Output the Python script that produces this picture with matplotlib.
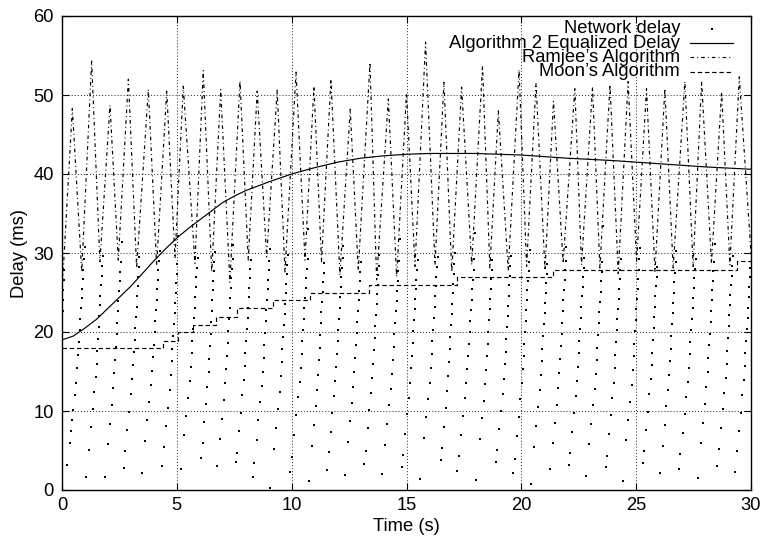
import numpy as np
import matplotlib
matplotlib.use("Agg")
import matplotlib.pyplot as plt
from matplotlib.lines import Line2D

plt.rcParams['font.family'] = ['Liberation Sans', 'DejaVu Sans']
plt.rcParams['lines.scale_dashes'] = False

# ---------------- data ----------------
# Algorithm 2 equalized delay (ms) vs time (s)
alg2_t = [0, 0.5, 1, 1.5, 2, 2.5, 3, 3.5, 4, 4.5, 5, 5.5, 6, 6.5, 7, 7.5, 8, 9, 10,
          11, 12, 13, 14, 15, 16, 17, 18, 19, 20, 21, 22, 23, 24, 25, 26, 27, 28, 29, 30]
alg2_d = [19.0, 19.5, 20.5, 21.6, 23.0, 24.4, 25.8, 27.4, 29.0, 30.5, 31.9, 33.1, 34.2,
          35.3, 36.4, 37.2, 37.9, 39.0, 40.0, 40.8, 41.5, 42.0, 42.3, 42.5, 42.6, 42.6,
          42.6, 42.5, 42.4, 42.2, 42.0, 41.85, 41.7, 41.5, 41.3, 41.1, 40.9, 40.75, 40.6]

# Ramjee's algorithm (alternating troughs / peaks)
ramjee_t = [0.0, 0.45, 0.86, 1.29, 1.65, 2.09, 2.45, 2.89, 3.25, 3.76, 4.12, 4.56, 4.92,
            5.28, 5.79, 6.15, 6.52, 6.91, 7.31, 7.75, 8.11, 8.50, 8.91, 9.37, 9.71, 10.19,
            10.58, 10.97, 11.30, 11.71, 12.10, 12.55, 12.90, 13.41, 13.70, 14.21, 14.57,
            15.00, 15.37, 15.83, 16.24, 16.63, 16.97, 17.40, 17.84, 18.31, 18.63, 19.00,
            19.43, 19.90, 20.23, 20.64, 21.03, 21.40, 21.82, 22.33, 22.62, 23.10, 23.42,
            23.86, 24.22, 24.65, 25.02, 25.45, 25.82, 26.25, 26.61, 27.12, 27.48, 27.85,
            28.28, 28.72, 29.08, 29.49, 30.0]
ramjee_d = [25.0, 48.3, 27.6, 54.3, 28.9, 48.7, 29.1, 52.0, 28.1, 50.7, 28.5, 50.5, 29.3,
            51.1, 28.7, 53.1, 27.6, 50.7, 26.3, 51.8, 29.1, 50.5, 29.5, 50.6, 27.6, 52.9,
            29.1, 51.1, 28.9, 52.0, 27.2, 48.2, 27.8, 54.1, 26.6, 49.5, 27.0, 50.2, 28.3,
            56.7, 28.5, 51.6, 27.6, 51.0, 28.5, 53.7, 28.1, 48.0, 27.8, 53.2, 28.3, 51.5,
            27.8, 49.2, 28.7, 50.8, 28.5, 51.0, 28.1, 51.3, 27.4, 51.7, 28.9, 50.8, 27.6,
            50.8, 28.1, 51.7, 28.3, 51.7, 28.7, 50.4, 28.5, 52.3, 30.0]

# Moon's algorithm (step levels)
moon_t = [0, 4.4, 5.05, 5.7, 6.7, 7.6, 9.2, 10.8, 13.35, 17.2, 21.4, 29.4, 30]
moon_d = [18, 18.9, 20, 20.9, 21.9, 23, 24, 25, 25.9, 27, 27.9, 29, 29]

# Network delay: sawtooth teeth (start time of each tooth, and delays of its packets)
tooth_start = [-0.35, 0.12, 1.00, 1.80, 2.60, 3.40, 4.27, 5.07, 5.94, 6.67, 7.46, 8.26,
               9.06, 9.86, 10.73, 11.45, 12.25, 13.05, 13.85, 14.72, 15.52, 16.39, 17.12,
               17.99, 18.78, 19.58, 20.38, 21.18, 21.97, 22.77, 23.57, 24.37, 25.17, 25.97,
               26.76, 27.63, 28.43, 29.23]
tooth_delays = [
    [19.5, 21.0, 22.6, 24.1, 25.3, 26.6, 27.8],
    [3.2, 5.9, 7.5, 8.8, 10.1, 12.0, 13.6, 15.4, 17.1, 18.7, 20.2, 21.6, 23.0, 24.3, 25.5, 26.7, 27.9, 29.2, 30.8],
    [1.7, 5.1, 8.0, 10.2, 12.4, 14.3, 16.0, 17.6, 19.1, 20.6, 22.0, 23.4, 24.6, 25.9, 27.1, 28.3, 29.6],
    [1.7, 5.8, 8.4, 10.8, 12.9, 14.8, 16.5, 18.1, 19.7, 21.2, 22.6, 23.9, 25.2, 26.4, 27.6, 28.9, 31.4],
    [2.8, 4.9, 7.6, 9.9, 12.1, 14.0, 15.8, 17.5, 19.0, 20.5, 21.9, 23.2, 24.5, 25.8, 27.0, 28.2, 29.5],
    [2.1, 6.2, 8.8, 11.2, 13.3, 15.1, 16.8, 18.4, 20.0, 21.4, 22.8, 24.1, 25.4, 26.6, 27.8, 29.0, 30.3],
    [3.1, 5.5, 8.1, 10.4, 12.6, 14.5, 16.3, 17.9, 19.5, 21.0, 22.4, 23.7, 25.0, 26.2, 27.4, 28.6, 32.2],
    [2.7, 6.9, 9.4, 11.7, 13.8, 15.6, 17.3, 18.9, 20.4, 21.8, 23.1, 24.4, 25.7, 26.9, 28.1, 29.4],
    [4.1, 5.9, 8.6, 10.9, 13.0, 14.9, 16.6, 18.2, 19.8, 21.3, 22.7, 24.0, 25.3, 26.5, 27.7, 28.8, 30.1],
    [3.0, 6.4, 9.0, 11.4, 13.5, 15.3, 17.0, 18.6, 20.1, 21.6, 23.0, 24.3, 25.6, 26.8, 28.0, 29.3, 31.0],
    [3.5, 4.7, 7.5, 9.8, 12.0, 13.9, 15.7, 17.3, 18.9, 20.4, 21.8, 23.1, 24.4, 25.6, 26.8, 28.0, 29.1],
    [1.6, 3.4, 6.3, 8.9, 11.2, 13.2, 15.0, 16.7, 18.3, 19.9, 21.4, 22.8, 24.1, 25.4, 26.6, 27.8, 29.0, 30.5],
    [0.2, 5.2, 7.9, 10.3, 12.4, 14.4, 16.2, 17.8, 19.4, 20.9, 22.3, 23.6, 24.9, 26.1, 27.3, 28.5, 29.8],
    [2.3, 4.2, 7.0, 9.5, 11.8, 13.7, 15.5, 17.2, 18.8, 20.3, 21.7, 23.0, 24.3, 25.6, 26.8, 28.0, 29.3, 33.1],
    [1.1, 5.6, 8.2, 10.6, 12.7, 14.6, 16.4, 18.0, 19.6, 21.1, 22.5, 23.8, 25.1, 26.3, 27.5, 28.7],
    [2.5, 4.8, 7.4, 9.7, 11.9, 13.8, 15.6, 17.2, 18.8, 20.3, 21.7, 23.1, 24.4, 25.7, 26.9, 28.1, 29.4, 30.9],
    [1.9, 6.1, 8.7, 11.0, 13.1, 15.0, 16.7, 18.3, 19.9, 21.3, 22.7, 24.0, 25.2, 26.4, 27.6, 28.9],
    [3.3, 5.0, 7.8, 10.1, 12.3, 14.2, 16.0, 17.7, 19.2, 20.7, 22.1, 23.5, 24.8, 26.0, 27.2, 28.4, 29.7],
    [2.0, 5.7, 8.3, 10.7, 12.8, 14.7, 16.5, 18.1, 19.7, 21.2, 22.6, 23.9, 25.2, 26.5, 27.7, 29.0, 31.8],
    [2.9, 4.4, 7.1, 9.6, 11.7, 13.6, 15.4, 17.0, 18.6, 20.1, 21.5, 22.9, 24.2, 25.4, 26.6, 27.8, 29.1],
    [1.4, 6.6, 9.2, 11.5, 13.6, 15.5, 17.2, 18.8, 20.3, 21.8, 23.2, 24.5, 25.8, 27.0, 28.2, 29.5],
    [3.8, 5.3, 8.0, 10.4, 12.5, 14.4, 16.2, 17.8, 19.4, 20.9, 22.3, 23.6, 24.9, 26.1, 27.3, 28.6, 30.0],
    [2.4, 4.3, 7.0, 9.4, 11.6, 13.5, 15.3, 17.0, 18.5, 20.0, 21.4, 22.8, 24.1, 25.4, 26.6, 27.9, 29.2, 32.5],
    [1.3, 6.5, 9.1, 11.3, 13.4, 15.2, 16.9, 18.5, 20.0, 21.5, 22.9, 24.2, 25.5, 26.7, 27.9, 29.1],
    [3.6, 5.1, 7.7, 10.0, 12.2, 14.1, 15.9, 17.5, 19.1, 20.6, 22.0, 23.3, 24.6, 25.9, 27.1, 28.3, 29.6],
    [2.2, 3.9, 6.8, 9.3, 11.5, 13.5, 15.3, 16.9, 18.5, 20.0, 21.4, 22.8, 24.1, 25.3, 26.5, 27.7, 28.9, 30.4],
    [0.8, 5.4, 8.1, 10.5, 12.6, 14.5, 16.3, 17.9, 19.5, 21.0, 22.4, 23.7, 25.0, 26.2, 27.4, 28.6],
    [2.6, 6.0, 8.5, 10.8, 12.9, 14.8, 16.6, 18.2, 19.8, 21.2, 22.6, 24.0, 25.3, 26.6, 27.8, 29.0, 30.7],
    [3.2, 4.7, 7.3, 9.7, 11.9, 13.8, 15.6, 17.3, 18.9, 20.4, 21.8, 23.2, 24.5, 25.7, 26.9, 28.1, 29.4],
    [1.8, 5.8, 8.4, 10.7, 12.8, 14.7, 16.4, 18.0, 19.6, 21.1, 22.5, 23.8, 25.1, 26.4, 27.6, 28.8, 33.4],
    [2.9, 4.3, 7.1, 9.5, 11.7, 13.6, 15.4, 17.1, 18.7, 20.2, 21.6, 22.9, 24.2, 25.5, 26.7, 27.9, 29.2],
    [1.2, 6.3, 8.9, 11.2, 13.3, 15.2, 16.9, 18.5, 20.1, 21.5, 22.9, 24.2, 25.5, 26.7, 27.9, 29.2, 30.6],
    [3.4, 5.0, 7.6, 9.9, 12.1, 14.0, 15.8, 17.4, 19.0, 20.5, 21.9, 23.2, 24.5, 25.8, 27.0, 28.2],
    [2.1, 5.6, 8.2, 10.6, 12.7, 14.6, 16.3, 17.9, 19.5, 21.0, 22.4, 23.7, 25.0, 26.3, 27.5, 28.8, 30.2],
    [2.7, 4.5, 7.2, 9.6, 11.8, 13.7, 15.5, 17.2, 18.7, 20.2, 21.6, 23.0, 24.3, 25.6, 26.8, 28.0, 29.3],
    [1.5, 5.9, 8.5, 10.9, 13.0, 14.9, 16.7, 18.3, 19.8, 21.3, 22.7, 24.0, 25.3, 26.5, 27.7, 28.9, 31.2],
    [3.0, 5.2, 7.8, 10.2, 12.3, 14.2, 16.0, 17.6, 19.2, 20.7, 22.1, 23.4, 24.7, 25.9, 27.1, 28.4, 29.6],
    [2.3, 4.9, 7.5, 9.8, 12.0, 13.9, 15.7, 17.3, 18.9, 20.4, 21.8, 23.1, 24.4, 25.7, 26.9, 28.1],
]
# shape of one tooth: delay reached vs. fraction of the tooth period
ramp_delay = [0, 14, 31]
ramp_frac = [0, 0.58, 1.0]

x_ticks = [0, 5, 10, 15, 20, 25, 30]
y_ticks = [0, 10, 20, 30, 40, 50, 60]
labels = ["Network delay", "Algorithm 2 Equalized Delay",
          "Ramjee\u2019s Algorithm", "Moon\u2019s Algorithm"]

# ---------------- build network delay points ----------------
net_t, net_d = [], []
for i, (s, ds) in enumerate(zip(tooth_start, tooth_delays)):
    e = tooth_start[i + 1] if i + 1 < len(tooth_start) else s + 0.8
    dur = e - s
    for d in ds:
        net_t.append(s + dur * np.interp(d, ramp_delay, ramp_frac))
        net_d.append(d)

# ---------------- figure ----------------
W, H = 764, 537
fig = plt.figure(figsize=(W / 100, H / 100), dpi=100)
L, R, T, B = 62, 751, 16, 490
ax = fig.add_axes([L / W, (H - B) / H, (R - L) / W, (B - T) / H])

FS = 13.2
lw = 0.85
ramjee_dash = (0, (2.6, 2.2, 0.7, 2.2))
moon_dash = (0, (3.2, 2.0))
dot_kw = dict(linestyle='none', marker='s', ms=1.6, mew=0, color='black')

ax.plot(net_t, net_d, **dot_kw)
ax.plot(ramjee_t, ramjee_d, color='black', lw=lw, linestyle=ramjee_dash)
ax.step(moon_t, moon_d, where='post', color='black', lw=lw, linestyle=moon_dash)
ax.plot(alg2_t, alg2_d, color='black', lw=lw, linestyle='-')

ax.set_xlim(0, 30)
ax.set_ylim(0, 60)
ax.set_xticks(x_ticks)
ax.set_yticks(y_ticks)
ax.set_xticklabels([str(v) for v in x_ticks], fontsize=FS)
ax.set_yticklabels([str(v) for v in y_ticks], fontsize=FS)
ax.tick_params(direction='in', length=5, width=0.8, top=True, right=True,
               colors='black', pad=5)
ax.tick_params(axis='y', pad=6)
ax.grid(True, color='black', lw=0.6, linestyle=(0, (0.7, 1.5)))
for sp in ax.spines.values():
    sp.set_linewidth(1.0)
    sp.set_color('black')

ax.set_xlabel("Time (s)", fontsize=FS, labelpad=3)
ax.set_ylabel("Delay (ms)", fontsize=FS, labelpad=4)

# legend (gnuplot style, right aligned, no box)
row_y = [0.9726, 0.943, 0.9135, 0.882]
tx = 0.897
hx0, hx1 = 0.9115, 0.974
for lab, y in zip(labels, row_y):
    ax.text(tx, y, lab, transform=ax.transAxes, ha='right', va='center', fontsize=FS)
ax.add_line(Line2D([(hx0 + hx1) / 2], [row_y[0]], transform=ax.transAxes, **dot_kw))
ax.add_line(Line2D([hx0, hx1], [row_y[1]] * 2, transform=ax.transAxes, color='black', lw=lw))
ax.add_line(Line2D([hx0, hx1], [row_y[2]] * 2, transform=ax.transAxes, color='black', lw=lw,
                   linestyle=ramjee_dash))
ax.add_line(Line2D([hx0, hx1], [row_y[3]] * 2, transform=ax.transAxes, color='black', lw=lw,
                   linestyle=moon_dash))

fig.savefig("out.png", dpi=100)
